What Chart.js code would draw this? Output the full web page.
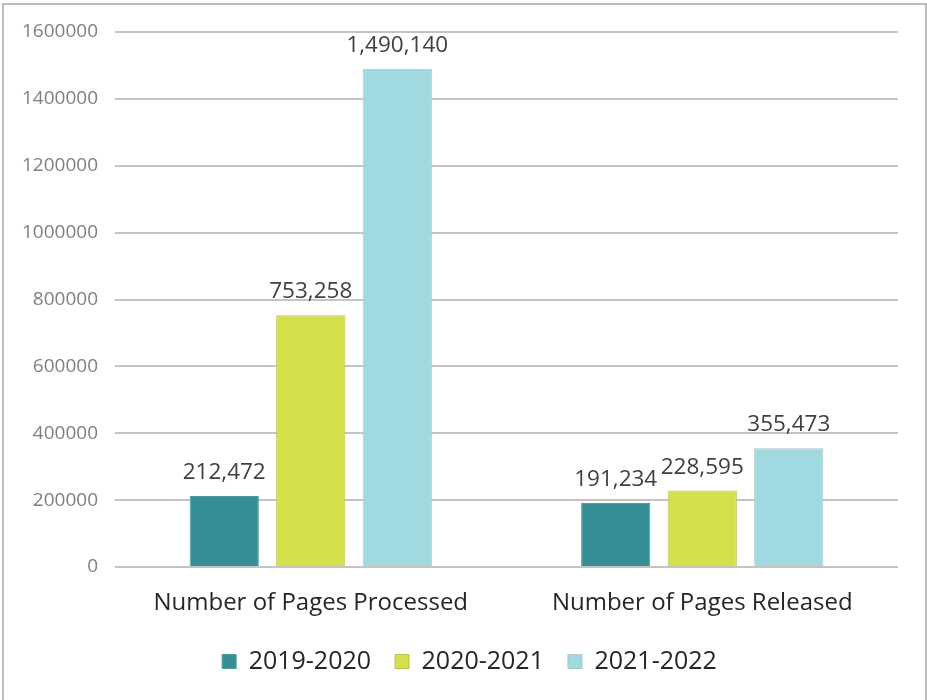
<!DOCTYPE html>
<html>
<head>
<meta charset="utf-8">
<script src="https://cdn.jsdelivr.net/npm/chart.js@4/dist/chart.umd.min.js"></script>
<style>
  html, body { margin: 0; padding: 0; background: #fff; }
  #wrap { position: relative; width: 927px; height: 700px; }
</style>
</head>
<body>
<div id="wrap"><canvas id="chart"></canvas></div>
<script>
// Chart data
const categories = ['Number of Pages Processed', 'Number of Pages Released'];
const seriesNames = ['2019-2020', '2020-2021', '2021-2022'];
const values2019 = [212472, 191234];
const values2020 = [753258, 228595];
const values2021 = [1490140, 355473];
const yTicks = [0, 200000, 400000, 600000, 800000, 1000000, 1200000, 1400000, 1600000];

const FONT = '"Open Sans", Lato, sans-serif';

// frame around the whole picture
const framePlugin = {
  id: 'frame',
  beforeDraw(chart) {
    const ctx = chart.ctx;
    ctx.save();
    ctx.fillStyle = '#fff';
    ctx.fillRect(0, 0, chart.width, chart.height);
    ctx.strokeStyle = '#bcbcbc';
    ctx.lineWidth = 2;
    ctx.strokeRect(3, 4, 923, 710);
    ctx.restore();
  }
};

// value labels above each bar
const valueLabels = {
  id: 'valueLabels',
  afterDatasetsDraw(chart) {
    const ctx = chart.ctx;
    ctx.save();
    ctx.font = '22.5px ' + FONT;
    ctx.fillStyle = '#404040';
    ctx.textAlign = 'center';
    ctx.textBaseline = 'alphabetic';
    chart.data.datasets.forEach((ds, i) => {
      chart.getDatasetMeta(i).data.forEach((bar, j) => {
        ctx.fillText(ds.data[j].toLocaleString('en-US'), bar.x, bar.y - 17);
      });
    });
    ctx.restore();
  }
};

new Chart(document.getElementById('chart'), {
  type: 'bar',
  data: {
    labels: categories,
    datasets: [
      { label: seriesNames[0], data: values2019, backgroundColor: '#368f96', borderColor: '#4f9aa0', borderWidth: 1 },
      { label: seriesNames[1], data: values2020, backgroundColor: '#d4df4c', borderColor: '#bcc450', borderWidth: 1 },
      { label: seriesNames[2], data: values2021, backgroundColor: '#a0d9e0', borderColor: '#a9c9cc', borderWidth: 1 }
    ]
  },
  options: {
    responsive: true,
    maintainAspectRatio: false,
    animation: false,
    categoryPercentage: 0.663,
    barPercentage: 0.8,
    layout: { padding: { left: 12, right: 0, top: 32, bottom: 16 } },
    plugins: {
      legend: {
        position: 'bottom',
        labels: {
          boxWidth: 14,
          boxHeight: 14,
          padding: 24,
          color: '#262626',
          font: { family: FONT, size: 25 }
        }
      },
      tooltip: { enabled: false }
    },
    scales: {
      x: {
        grid: { display: false, drawTicks: false },
        border: { display: false },
        ticks: { color: '#262626', padding: 22, font: { family: FONT, size: 24 } },
        afterFit: s => { s.height = 58; }
      },
      y: {
        min: 0,
        max: 1600000,
        afterBuildTicks: s => { s.ticks = yTicks.map(v => ({ value: v })); },
        grid: { color: '#c4c4c4', lineWidth: 2, drawTicks: false },
        border: { display: false },
        ticks: { color: '#7f7f7f', padding: 17, font: { family: FONT, size: 19 }, callback: v => String(v) },
        afterFit: s => { s.width = 103; }
      },
      // empty right-hand axis keeps the plot clear of the frame
      yRight: {
        position: 'right',
        grid: { display: false, drawTicks: false },
        border: { display: false },
        ticks: { display: false },
        afterFit: s => { s.width = 29; }
      }
    }
  },
  plugins: [framePlugin, valueLabels]
});
</script>
</body>
</html>
